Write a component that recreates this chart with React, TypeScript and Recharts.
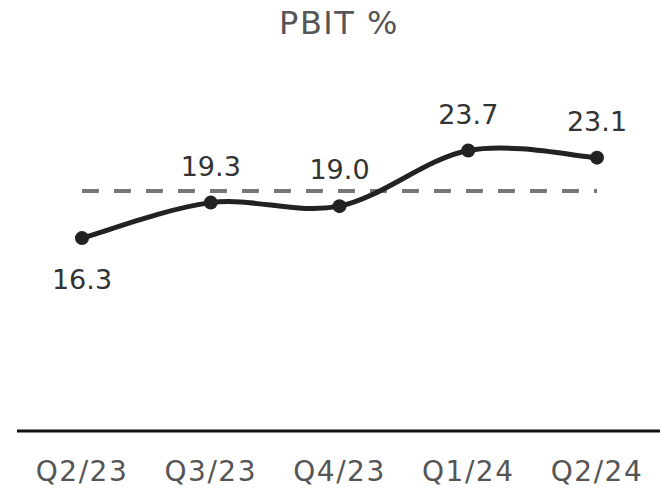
import { LineChart, Line, XAxis, YAxis, ReferenceLine, LabelList } from "recharts";

const quarters = ["Q2/23", "Q3/23", "Q4/23", "Q1/24", "Q2/24"];
const pbit = [16.3, 19.3, 19.0, 23.7, 23.1];
const average = pbit.reduce((s, v) => s + v, 0) / pbit.length;

const data = quarters.map((q, i) => ({ quarter: q, pbit: pbit[i] }));

const font = "'DejaVu Sans', Verdana, sans-serif";

// catmull-rom style smoothing (cardinal, tension 0)
const smoothCurve = (context: any) => {
  let pts: number[][] = [];
  return {
    areaStart() {},
    areaEnd() {},
    lineStart() {
      pts = [];
    },
    point(x: number, y: number) {
      pts.push([+x, +y]);
    },
    lineEnd() {
      if (!pts.length) return;
      context.moveTo(pts[0][0], pts[0][1]);
      for (let i = 0; i < pts.length - 1; i++) {
        const p0 = pts[Math.max(i - 1, 0)];
        const p1 = pts[i];
        const p2 = pts[i + 1];
        const p3 = pts[Math.min(i + 2, pts.length - 1)];
        context.bezierCurveTo(
          p1[0] + (p2[0] - p0[0]) / 6,
          p1[1] + (p2[1] - p0[1]) / 6,
          p2[0] - (p3[0] - p1[0]) / 6,
          p2[1] - (p3[1] - p1[1]) / 6,
          p2[0],
          p2[1]
        );
      }
    },
  };
};

const ValueLabel = (props: any) => {
  const { x, y, value, index } = props;
  const below = index === 0;
  return (
    <text
      x={x}
      y={below ? y + 51 : y - 27}
      textAnchor="middle"
      fill="#333"
      fontSize={27}
      fontFamily={font}
    >
      {Number(value).toFixed(1)}
    </text>
  );
};

export default function App() {
  return (
    <div style={{ position: "absolute", left: 0, top: 0, width: 660, height: 488, background: "#fff" }}>
      <div
        style={{
          position: "absolute",
          left: 0,
          top: 4,
          width: 678,
          textAlign: "center",
          fontFamily: font,
          fontSize: 32,
          letterSpacing: 1.5,
          color: "#555",
        }}
      >
        PBIT %
      </div>
      <LineChart
        width={660}
        height={488}
        data={data}
        margin={{ top: 76, right: 0, left: 17, bottom: 0 }}
      >
        <XAxis
          dataKey="quarter"
          height={57}
          axisLine={{ stroke: "#111", strokeWidth: 3 }}
          tickLine={false}
          padding={{ left: 65, right: 63 }}
          tick={{ fill: "#555", fontSize: 28, fontFamily: font, letterSpacing: 1.5 }}
          tickMargin={24}
          interval={0}
        />
        <YAxis hide domain={[0, 30]} />
        <ReferenceLine
          segment={[
            { x: quarters[0], y: average },
            { x: quarters[quarters.length - 1], y: average },
          ]}
          stroke="#777"
          strokeWidth={4}
          strokeDasharray="17 15"
        />
        <Line
          type={smoothCurve as any}
          dataKey="pbit"
          stroke="#222"
          strokeWidth={5}
          dot={{ r: 7, fill: "#222", stroke: "#222", strokeWidth: 0 }}
          isAnimationActive={false}
        >
          <LabelList dataKey="pbit" content={ValueLabel} />
        </Line>
      </LineChart>
    </div>
  );
}
